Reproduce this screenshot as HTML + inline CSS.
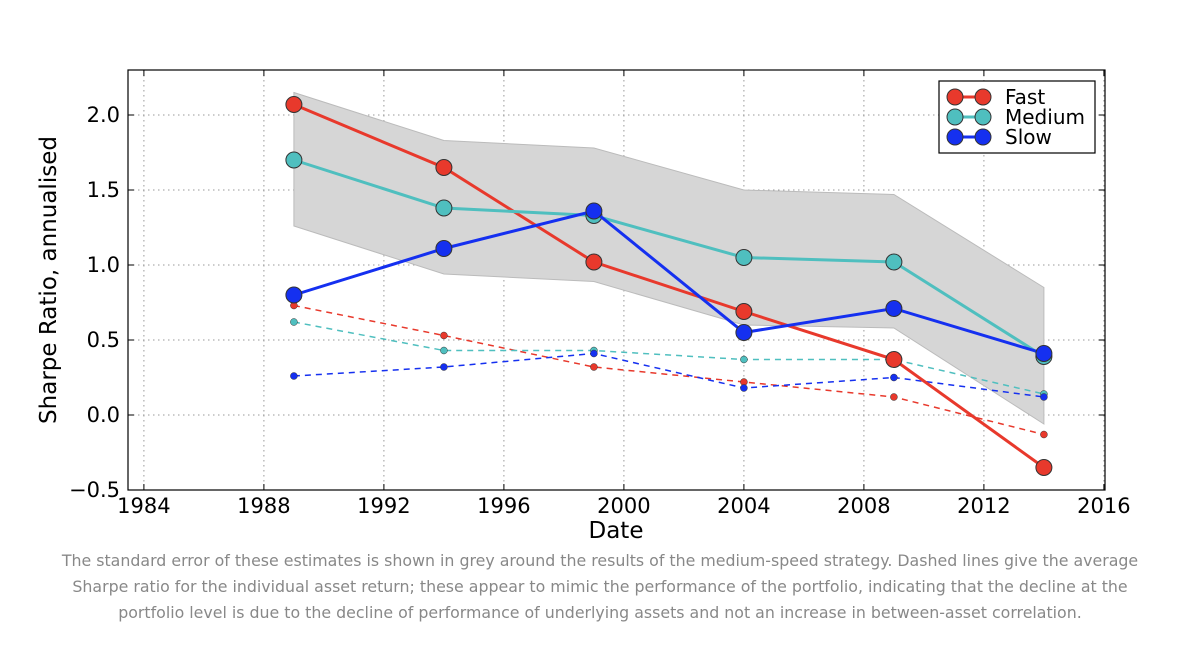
<!DOCTYPE html>
<html><head><meta charset="utf-8"><style>
body{margin:0;background:#fff;width:1200px;height:660px;overflow:hidden;font-family:"DejaVu Sans","Liberation Sans",sans-serif}
#cap{position:absolute;left:0;top:548px;width:1200px;text-align:center;color:#888;font-family:"DejaVu Sans","Liberation Sans",sans-serif;font-size:15.8px;line-height:26px}
</style></head><body>
<svg id="chart" width="1200" height="545" style="position:absolute;left:0;top:0"></svg>
<div id="cap">The standard error of these estimates is shown in grey around the results of the medium-speed strategy. Dashed lines give the average<br>Sharpe ratio for the individual asset return; these appear to mimic the performance of the portfolio, indicating that the decline at the<br>portfolio level is due to the decline of performance of underlying assets and not an increase in between-asset correlation.</div>
<script>
const years=[1989,1994,1999,2004,2009,2014];
const fast=[2.07,1.65,1.02,0.69,0.37,-0.35];
const medium=[1.70,1.38,1.33,1.05,1.02,0.39];
const slow=[0.80,1.11,1.36,0.55,0.71,0.41];
const bandUpper=[2.15,1.83,1.78,1.50,1.47,0.85];
const bandLower=[1.26,0.94,0.89,0.60,0.58,-0.06];
const fastAsset=[0.73,0.53,0.32,0.22,0.12,-0.13];
const mediumAsset=[0.62,0.43,0.43,0.37,0.37,0.14];
const slowAsset=[0.26,0.32,0.41,0.18,0.25,0.12];
const xTicks=[1984,1988,1992,1996,2000,2004,2008,2012,2016];
const yTicks=[-0.5,0.0,0.5,1.0,1.5,2.0];
const L=128,R=1105,T=70,B=490;
const xs=v=>L+(v-1983.47)*30;
const ys=v=>415-v*150;
const svg=document.getElementById('chart');
const NS='http://www.w3.org/2000/svg';
function mk(t,a,p){const e=document.createElementNS(NS,t);for(const k in a)e.setAttribute(k,a[k]);(p||svg).appendChild(e);return e;}
xTicks.forEach(t=>{const l=mk('line',{x1:xs(t),x2:xs(t),y1:T,y2:B,stroke:'#999','stroke-dasharray':'1.5,3.5'});


const tx=mk('text',{x:xs(t),y:B+23,'text-anchor':'middle','font-size':21,fill:'#000'});tx.textContent=t;


mk('line',{x1:xs(t),x2:xs(t),y1:B,y2:B-6,stroke:'#000'});mk('line',{x1:xs(t),x2:xs(t),y1:T,y2:T+6,stroke:'#000'});});
yTicks.forEach(t=>{const l=mk('line',{x1:L,x2:R,y1:ys(t),y2:ys(t),stroke:'#999','stroke-dasharray':'1.5,3.5'});


const tx=mk('text',{x:L-8,y:ys(t)+7,'text-anchor':'end','font-size':21,fill:'#000'});tx.textContent=t.toFixed(1).replace('-','−');


mk('line',{x1:L,x2:L+6,y1:ys(t),y2:ys(t),stroke:'#000'});mk('line',{x1:R,x2:R-6,y1:ys(t),y2:ys(t),stroke:'#000'});});
let pts=years.map((y,i)=>xs(y)+','+ys(bandUpper[i])).concat(years.map((y,i)=>xs(y)+','+ys(bandLower[i])).reverse());
const band=mk('polygon',{points:pts.join(' '),fill:'#d6d6d6',stroke:'#bbb','stroke-width':1});


function series(vals,col,dashed,name){
 const g=mk('g',{});
 
 
 mk('polyline',{points:years.map((y,i)=>xs(y)+','+ys(vals[i])).join(' '),fill:'none',stroke:col,'stroke-width':dashed?1.5:3,'stroke-dasharray':dashed?'6,5':'none'},g);
 years.forEach((y,i)=>{const c=mk('circle',{cx:xs(y),cy:ys(vals[i]),r:dashed?3.5:8,fill:col,stroke:'#333','stroke-width':dashed?0.5:1},g);
 
 });
}
series(fastAsset,'#e8392c',true,'fast-asset-series');
series(mediumAsset,'#4fbfbf',true,'medium-asset-series');
series(slowAsset,'#1530f0',true,'slow-asset-series');
series(fast,'#e8392c',false,'fast-series');
series(medium,'#4fbfbf',false,'medium-series');
series(slow,'#1530f0',false,'slow-series');
mk('rect',{x:L,y:T,width:R-L,height:B-T,fill:'none',stroke:'#000','stroke-width':1.2});
const lg=mk('g',{});


mk('rect',{x:939,y:81,width:156,height:72,fill:'#fff',stroke:'#000','stroke-width':1.2},lg);
[['Fast','#e8392c'],['Medium','#4fbfbf'],['Slow','#1530f0']].forEach((d,i)=>{const y=97+i*20;
 mk('line',{x1:955,x2:983,y1:y,y2:y,stroke:d[1],'stroke-width':3},lg);
 mk('circle',{cx:955,cy:y,r:8,fill:d[1],stroke:'#333'},lg);mk('circle',{cx:983,cy:y,r:8,fill:d[1],stroke:'#333'},lg);
 const t=mk('text',{x:1005,y:y+7,'font-size':20},lg);t.textContent=d[0];
 
 });
const xt=mk('text',{x:616,y:538,'text-anchor':'middle','font-size':23});xt.textContent='Date';


const yt=mk('text',{x:0,y:0,'text-anchor':'middle','font-size':23,transform:'translate(56,280) rotate(-90)'});yt.textContent='Sharpe Ratio, annualised';


</script>
</body></html>
